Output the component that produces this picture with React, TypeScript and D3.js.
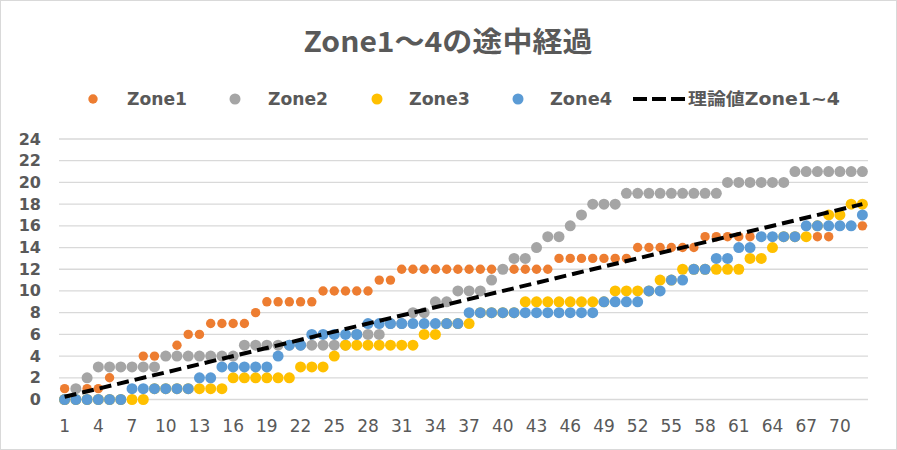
import React from 'react';
import * as d3 from 'd3';

// category numbers 1..72
const categories: number[] = [
  1, 2, 3, 4, 5, 6, 7, 8, 9, 10, 11, 12, 13, 14, 15, 16, 17, 18, 19, 20, 21, 22, 23, 24,
  25, 26, 27, 28, 29, 30, 31, 32, 33, 34, 35, 36, 37, 38, 39, 40, 41, 42, 43, 44, 45, 46, 47, 48,
  49, 50, 51, 52, 53, 54, 55, 56, 57, 58, 59, 60, 61, 62, 63, 64, 65, 66, 67, 68, 69, 70, 71, 72,
];

const zone1: number[] = [
  1, 1, 1, 1, 2, 3, 3, 4, 4, 4, 5, 6, 6, 7, 7, 7, 7, 8, 9, 9, 9, 9, 9, 10,
  10, 10, 10, 10, 11, 11, 12, 12, 12, 12, 12, 12, 12, 12, 12, 12, 12, 12, 12, 12, 13, 13, 13, 13,
  13, 13, 13, 14, 14, 14, 14, 14, 14, 15, 15, 15, 15, 15, 15, 15, 15, 15, 15, 15, 15, 16, 16, 16,
];
const zone2: number[] = [
  0, 1, 2, 3, 3, 3, 3, 3, 3, 4, 4, 4, 4, 4, 4, 4, 5, 5, 5, 5, 5, 5, 5, 5,
  5, 5, 6, 6, 6, 7, 7, 8, 8, 9, 9, 10, 10, 10, 11, 12, 13, 13, 14, 15, 15, 16, 17, 18,
  18, 18, 19, 19, 19, 19, 19, 19, 19, 19, 19, 20, 20, 20, 20, 20, 20, 21, 21, 21, 21, 21, 21, 21,
];
const zone3: number[] = [
  0, 0, 0, 0, 0, 0, 0, 0, 1, 1, 1, 1, 1, 1, 1, 2, 2, 2, 2, 2, 2, 3, 3, 3,
  4, 5, 5, 5, 5, 5, 5, 5, 6, 6, 7, 7, 7, 8, 8, 8, 8, 9, 9, 9, 9, 9, 9, 9,
  9, 10, 10, 10, 10, 11, 11, 12, 12, 12, 12, 12, 12, 13, 13, 14, 15, 15, 15, 16, 17, 17, 18, 18,
];
const zone4: number[] = [
  0, 0, 0, 0, 0, 0, 1, 1, 1, 1, 1, 1, 2, 2, 3, 3, 3, 3, 3, 4, 5, 5, 6, 6,
  6, 6, 6, 7, 7, 7, 7, 7, 7, 7, 7, 7, 8, 8, 8, 8, 8, 8, 8, 8, 8, 8, 8, 8,
  9, 9, 9, 9, 10, 10, 11, 11, 12, 12, 13, 13, 14, 14, 15, 15, 15, 15, 16, 16, 16, 16, 16, 17,
];
// straight target line, start and end point
const theoryCats: number[] = [1, 72];
const theoryValues: number[] = [0.25, 18];

const yTicks: number[] = [0, 2, 4, 6, 8, 10, 12, 14, 16, 18, 20, 22, 24];
const xTickLabels: number[] = [1, 4, 7, 10, 13, 16, 19, 22, 25, 28, 31, 34, 37, 40, 43, 46, 49, 52, 55, 58, 61, 64, 67, 70];

const seriesList = [
  { name: 'Zone1', values: zone1, color: '#ED7D31', r: 4.7, lx: 93, tx: 127, tw: 60 },
  { name: 'Zone2', values: zone2, color: '#A5A5A5', r: 5.5, lx: 235, tx: 268, tw: 60 },
  { name: 'Zone3', values: zone3, color: '#FFC000', r: 5.5, lx: 377, tx: 409, tw: 61 },
  { name: 'Zone4', values: zone4, color: '#5B9BD5', r: 5.5, lx: 518, tx: 550, tw: 62 },
];

const W = 897;
const H = 450;
const font = '"DejaVu Sans", "Noto Sans CJK JP", sans-serif';
const textColor = '#595959';

export default function App() {
  const x = d3.scaleBand<number>().domain(categories).range([59, 868]);
  const y = d3.scaleLinear().domain([0, 24]).range([399.5, 139]);
  const cx = (c: number) => (x(c) || 0) + x.bandwidth() / 2;

  const theoryLine = d3.line<number>()
    .x((c) => cx(c))
    .y((_, i) => y(theoryValues[i]));

  return (
    <svg width={W} height={H} style={{ position: 'absolute', left: 0, top: 0, background: '#fff' }}>
      <rect x={0.5} y={0.5} width={W - 1} height={H - 1} fill="#fff" stroke="#D9D9D9" />
      <text x={448} y={52} textAnchor="middle" fontFamily={'"Noto Sans CJK JP", sans-serif'}
        fontWeight="bold" fontSize={28} fill={textColor} textLength={289} lengthAdjust="spacingAndGlyphs">Zone1～4の途中経過</text>

      {/* legend */}
      <g fontFamily={font} fontWeight="bold" fontSize={17} fill={textColor}>
        {seriesList.map((s) => (
          <g key={s.name}>
            <circle cx={s.lx} cy={99} r={s.r} fill={s.color} />
            <text x={s.tx} y={99} dominantBaseline="central" textLength={s.tw} lengthAdjust="spacingAndGlyphs">{s.name}</text>
          </g>
        ))}
        <line x1={633} x2={685} y1={99} y2={99} stroke="#000" strokeWidth={4} strokeDasharray="14 5" />
        <text x={688} y={99} dominantBaseline="central" textLength={152} lengthAdjust="spacingAndGlyphs">理論値Zone1~4</text>
      </g>

      {/* grid */}
      {yTicks.map((t) => (
        <line key={t} x1={59} x2={868} y1={y(t)} y2={y(t)} stroke="#D9D9D9" strokeWidth={1.3} />
      ))}
      <g fontFamily={font} fontWeight="bold" fontSize={16} fill={textColor}>
        {yTicks.map((t) => (
          <text key={t} x={41} y={y(t)} textAnchor="end" dominantBaseline="central">{t}</text>
        ))}
      </g>
      <g fontFamily={font} fontSize={17} fill={textColor}>
        {xTickLabels.map((c) => (
          <text key={c} x={cx(c)} y={426} textAnchor="middle" dominantBaseline="central">{c}</text>
        ))}
      </g>

      {/* points */}
      {seriesList.map((s) => (
        <g key={s.name}>
          {s.values.map((v, i) => (
            <circle key={i} cx={cx(categories[i])} cy={y(v)} r={s.r} fill={s.color} />
          ))}
        </g>
      ))}

      <path d={theoryLine(theoryCats) || ''} fill="none" stroke="#000" strokeWidth={4} strokeDasharray="12 6" />
    </svg>
  );
}
